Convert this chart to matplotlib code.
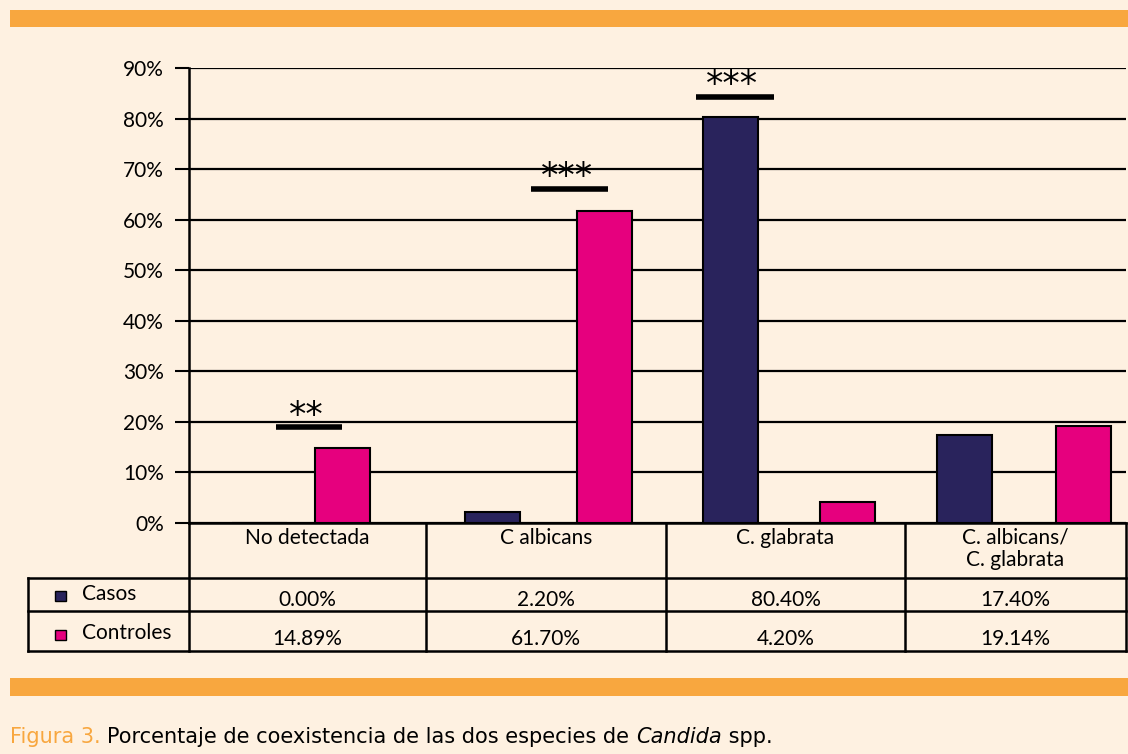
import matplotlib
matplotlib.use("Agg")
import matplotlib.pyplot as plt

plt.rcParams['font.family'] = ['Lato', 'DejaVu Sans']

# datos
categorias = ['No detectada', 'C albicans', 'C. glabrata', 'C. albicans/\nC. glabrata']
series = ['Casos', 'Controles']
casos = [0.00, 2.20, 80.40, 17.40]
controles = [14.89, 61.70, 4.20, 19.14]
colores = ['#29235C', '#E6007E']
# significancia: (categoria, nivel %, etiqueta)
signif_cat = [0, 1, 2]
signif_nivel = [19.0, 66.1, 84.3]
signif_txt = ['**', '***', '***']

# desplazamientos de las barras dentro de cada grupo (como en el original)
desp_casos = [-0.20, -0.204, -0.188, -0.189]
desp_controles = [0.155, 0.274, 0.313, 0.319]
desp_signif = [0.012, 0.124, -0.17]

W, H = 1128, 754
fondo = '#FEF1E1'
naranja = '#F8A73F'

fig = plt.figure(figsize=(W / 100, H / 100), dpi=100, facecolor=fondo)

# capa de fondo en pixeles
bg = fig.add_axes([0, 0, 1, 1], zorder=0)
bg.set_xlim(0, W)
bg.set_ylim(H, 0)
bg.axis('off')
bg.fill_between([10, W], 10, 27, color=naranja, lw=0)
bg.fill_between([10, W], 678, 696, color=naranja, lw=0)

# grafico principal
x0, x1, y0, y1 = 189, 1126, 523, 68
ax = fig.add_axes([x0 / W, 1 - y0 / H, (x1 - x0) / W, (y0 - y1) / H], zorder=2)
ax.set_facecolor('none')
ax.set_xlim(-0.5, len(categorias) - 0.5)
ax.set_ylim(0, 90)
ax.set_yticks(range(0, 91, 10))
ax.set_yticklabels([f'{v}%' for v in range(0, 91, 10)], fontsize=15)
ax.tick_params(axis='y', length=10, width=1.5, pad=8)
ax.set_xticks([])
for s in ['top', 'right', 'bottom']:
    ax.spines[s].set_visible(False)
ax.spines['left'].set_linewidth(1.8)
ax.yaxis.grid(True, color='black', lw=1.6)
ax.set_axisbelow(True)

ancho = 0.235
pos = range(len(categorias))
ax.bar([p + d for p, d in zip(pos, desp_casos)], casos, ancho,
       color=colores[0], edgecolor='black', lw=1.5, zorder=3)
ax.bar([p + d for p, d in zip(pos, desp_controles)], controles, ancho,
       color=colores[1], edgecolor='black', lw=1.5, zorder=3)

for c, dx, nv, t in zip(signif_cat, desp_signif, signif_nivel, signif_txt):
    half = 0.141 if t == '**' else 0.166
    ax.plot([c + dx - half, c + dx + half], [nv, nv], color='black', lw=4,
            solid_capstyle='butt', zorder=4)
    ax.text(c + dx - 0.01, nv - 1.1, t, ha='center', va='bottom', fontsize=25,
            family='DejaVu Sans', zorder=4)

# tabla de datos (pixeles)
bordes = [189, 426, 666, 905, 1126]
lw = 1.8
yh, yr1, yr2, yb = 523, 578, 611, 651
bg.plot([x0, x1], [yh, yh], color='black', lw=lw, zorder=1)
for yy in [yr1, yr2, yb]:
    bg.plot([28, x1], [yy, yy], color='black', lw=lw)
for xx in bordes:
    bg.plot([xx, xx], [yh, yb], color='black', lw=lw)
bg.plot([28, 28], [yr1, yb], color='black', lw=lw)

for i, cat in enumerate(categorias):
    cx = (bordes[i] + bordes[i + 1]) / 2
    bg.text(cx, 528, cat, ha='center', va='top', fontsize=15, linespacing=1.1)
    bg.text(cx, 600, f'{casos[i]:.2f}%', ha='center', va='center', fontsize=15)
    bg.text(cx, 639, f'{controles[i]:.2f}%', ha='center', va='center', fontsize=15)

for yy, nombre, col in zip([596, 635], series, colores):
    bg.add_patch(plt.Rectangle((55, yy - 5), 11, 10, facecolor=col, edgecolor='black', lw=1))
    bg.text(82, yy - 2, nombre, ha='left', va='center', fontsize=15)

# pie de figura
cap_fam = ['DejaVu Sans']
yc = 1 - 737 / H
t1 = fig.text(10 / W, yc, 'Figura 3. ', color=naranja, fontsize=15, va='center', family=cap_fam)
fig.canvas.draw()
xa = t1.get_window_extent().x1
t2 = fig.text(xa / W, yc, 'Porcentaje de coexistencia de las dos especies de ',
              fontsize=15, va='center', family=cap_fam)
fig.canvas.draw()
xb = t2.get_window_extent().x1
t3 = fig.text(xb / W, yc, 'Candida', style='italic', fontsize=15, va='center', family=cap_fam)
fig.canvas.draw()
xc = t3.get_window_extent().x1
fig.text(xc / W, yc, ' spp.', fontsize=15, va='center', family=cap_fam)

fig.savefig('out.png', dpi=100, facecolor=fondo)
